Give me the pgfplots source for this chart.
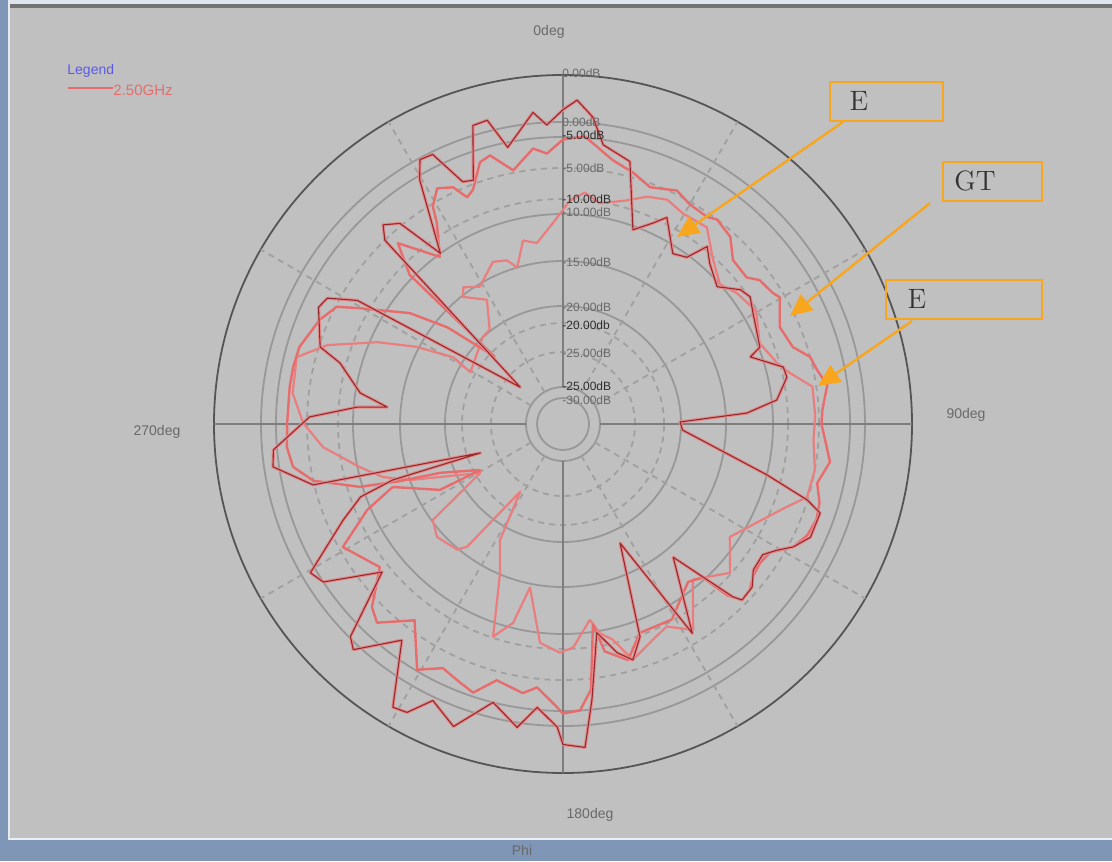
\documentclass[border=0pt]{standalone}
\usepackage{pgfplots}
\pgfplotsset{compat=1.18}
\usepgfplotslibrary{polar}
\usepackage{pgfplotstable}
\usetikzlibrary{arrows.meta}
\usepackage{fontspec}
\newfontfamily\uisans{Liberation Sans}

\definecolor{panel}{RGB}{192,192,192}
\definecolor{gridsolid}{RGB}{152,152,152}
\definecolor{griddash}{RGB}{160,160,160}
\definecolor{ringdark}{RGB}{85,85,85}
\definecolor{axisgray}{RGB}{125,125,125}
\definecolor{darktrace}{RGB}{150,40,45}
\definecolor{halo}{RGB}{226,140,140}
\definecolor{tracepink}{RGB}{232,108,108}
\definecolor{tracelight}{RGB}{234,125,125}
\definecolor{callout}{RGB}{247,166,30}
\definecolor{chrome}{RGB}{128,150,182}
\definecolor{legendblue}{RGB}{90,90,230}
\definecolor{labelgray}{RGB}{105,105,105}
\definecolor{labeldark}{RGB}{45,45,45}

% gain patterns: phi in degrees clockwise from 0deg (top), gain in dB
\pgfplotstableread{
phi gain
0.0 -2.8
2.5 -2.0
5.6 -3.3
8.2 -5.4
14.3 -6.3
19.8 -11.5
24.1 -10.4
26.7 -9.5
32.8 -11.8
36.6 -11.4
39.1 -9.7
42.4 -10.6
48.3 -11.5
52.9 -10.2
55.8 -9.9
59.7 -10.4
68.7 -11.1
70.3 -12.1
75.5 -9.8
78.2 -9.7
83.6 -10.8
86.6 -13.3
89.0 -18.7
92.9 -18.5
99.4 -15.3
104.0 -11.2
107.3 -7.5
109.1 -6.2
114.6 -6.2
118.1 -7.1
120.5 -8.1
123.2 -8.9
127.5 -8.8
130.8 -8.0
134.5 -7.9
135.5 -8.6
140.4 -14.2
148.3 -8.3
154.4 -17.5
160.1 -9.9
163.5 -8.3
166.7 -9.2
170.8 -11.1
174.0 -5.8
176.1 -2.0
180.0 -2.3
181.1 -3.7
185.2 -5.2
188.6 -3.4
194.1 -5.0
199.9 -2.2
205.2 -3.5
208.4 -1.7
211.0 -1.5
216.7 -6.4
222.9 -3.3
225.0 -3.9
230.7 -9.3
236.6 -5.0
239.5 -4.5
246.4 -8.8
250.2 -10.8
251.8 -13.7
250.7 -21.1
256.3 -7.4
261.6 -4.5
264.9 -4.7
267.3 -5.9
271.6 -7.7
274.7 -11.5
275.5 -13.9
278.7 -11.6
285.3 -9.5
287.6 -7.6
295.5 -6.3
298.1 -6.6
301.0 -8.8
310.7 -23.6
315.9 -7.5
317.9 -6.5
320.9 -7.3
324.3 -11.2
329.6 -5.3
331.6 -3.9
334.2 -4.0
337.5 -7.0
339.8 -7.2
343.2 -3.0
346.0 -2.9
348.7 -5.4
354.5 -2.9
356.9 -4.0
360.0 -2.8
}\patternA

\pgfplotstableread{
phi gain
0.0 -5.2
4.4 -4.9
7.7 -5.8
10.7 -6.5
15.6 -7.1
20.2 -7.8
26.0 -7.2
30.1 -7.7
34.8 -7.8
37.0 -7.5
41.8 -7.9
46.0 -9.1
51.4 -9.2
53.8 -8.5
58.0 -8.2
59.7 -7.9
65.9 -9.0
71.5 -8.6
74.8 -7.5
78.0 -7.2
81.6 -6.6
86.9 -7.2
90.0 -7.3
95.0 -6.8
98.1 -6.4
103.1 -7.1
107.1 -6.5
110.7 -6.3
114.5 -6.5
118.1 -7.1
121.9 -8.5
125.2 -8.7
128.8 -8.5
131.6 -8.0
134.5 -7.9
136.2 -9.0
137.7 -11.4
141.6 -11.9
150.9 -10.1
159.8 -10.2
164.6 -8.4
169.6 -9.5
171.5 -11.8
174.0 -6.6
176.6 -5.0
180.0 -4.8
181.2 -5.3
185.6 -6.8
188.5 -6.2
194.5 -6.8
198.5 -5.3
201.7 -5.7
206.2 -6.2
210.7 -5.1
217.1 -8.3
223.1 -6.2
226.2 -6.8
232.0 -9.4
240.8 -7.8
246.3 -10.9
249.7 -13.5
241.8 -16.9
241.0 -20.5
248.3 -17.5
250.7 -14.2
252.8 -11.0
257.2 -7.5
261.0 -6.1
265.2 -5.8
270.2 -5.9
277.7 -5.9
281.9 -5.9
286.3 -6.0
293.2 -6.8
297.4 -7.6
299.7 -9.3
305.9 -12.9
309.9 -16.0
314.6 -20.4
314.2 -10.9
317.6 -8.4
323.6 -11.4
327.9 -9.0
329.1 -7.7
331.9 -6.6
335.1 -7.1
337.1 -8.3
339.0 -7.9
342.4 -6.0
344.8 -5.7
348.9 -7.3
353.8 -5.8
356.6 -6.3
360.0 -5.2
}\patternB

\pgfplotstableread{
phi gain
1.8 -10.1
5.4 -9.4
9.5 -10.1
15.9 -9.4
20.3 -8.6
24.9 -8.2
29.6 -8.6
36.2 -8.5
42.4 -10.2
48.3 -11.2
53.0 -10.6
59.7 -10.1
67.6 -11.0
74.1 -10.2
77.3 -9.4
81.5 -7.8
88.0 -7.8
93.7 -7.9
100.3 -7.5
106.7 -7.6
110.3 -8.9
116.0 -10.4
120.5 -11.3
124.1 -11.9
131.7 -10.1
136.7 -11.2
140.2 -11.8
147.7 -8.5
152.9 -9.8
157.4 -9.3
163.5 -8.3
167.0 -10.3
170.0 -11.0
172.2 -12.2
177.4 -10.1
180.8 -9.7
186.0 -10.4
191.4 -14.7
194.1 -11.6
198.2 -10.1
202.9 -15.1
208.5 -17.5
212.3 -21.7
218.0 -15.6
220.1 -14.9
228.1 -14.5
233.6 -15.1
239.4 -20.4
249.9 -15.0
253.6 -13.0
258.0 -11.4
264.5 -8.7
270.2 -7.2
276.5 -6.2
284.1 -6.0
288.5 -8.1
293.8 -11.8
297.8 -14.8
301.3 -17.8
299.2 -19.6
317.4 -18.6
322.2 -18.5
328.5 -16.4
321.8 -15.1
323.9 -14.5
328.8 -15.2
336.6 -13.9
341.1 -14.2
343.7 -15.0
347.7 -13.0
351.8 -13.4
357.2 -11.9
361.8 -10.1
}\patternC

\begin{document}
\begin{tikzpicture}[x=0.5pt,y=0.5pt]
% window panel
\fill[panel] (0,0) rectangle (1112,861);
\fill[chrome] (0,0) rectangle (1112,21);
\fill[white!85!chrome] (0,21) rectangle (1112,23);
\fill[chrome] (0,21) rectangle (8,861);
\fill[white!80!chrome] (8,21) rectangle (10,861);
\fill[white!75!chrome] (10,857) rectangle (1112,861);
\fill[black!55] (10,853) rectangle (1112,857);
\useasboundingbox (0,0) rectangle (1112,861);
\coordinate (ctr) at (563,437);

\begin{polaraxis}[
  at={(ctr)}, anchor=center,
  scale only axis, width=349pt, height=349pt,
  xmin=0, xmax=360, ymin=0, ymax=28.15,
  hide axis, clip=false,
  % chart angle is clockwise from the top; radius is dB above the -28.15 dB centre
  x filter/.expression={mod(450-x,360)},
  y filter/.expression={y+28.15},
]
% radial rings
\pgfplotsinvokeforeach{151,143.5,105,81.5,59,18.5,13}{
  \draw[gridsolid, line width=0.9pt] (axis cs:0,0) circle[radius=#1pt];
}
\pgfplotsinvokeforeach{128,112.5,50.5,36}{
  \draw[griddash, line width=0.9pt, dash pattern=on 3pt off 2.5pt] (axis cs:0,0) circle[radius=#1pt];
}
\draw[ringdark, line width=0.9pt] (axis cs:0,0) circle[radius=174.5pt];
% angular spokes
\pgfplotsinvokeforeach{30,60,120,150,210,240,300,330}{
  \draw[griddash, line width=0.9pt, dash pattern=on 3pt off 2.5pt] (axis cs:#1,2.98) -- (axis cs:#1,28.15);
}
\pgfplotsinvokeforeach{0,90,180,270}{
  \draw[axisgray, line width=1.4pt] (axis cs:#1,2.98) -- (axis cs:#1,28.15);
}

\addplot[no markers, tracelight, line width=1.1pt, line join=round] table[x=phi,y=gain]{\patternC};
\addplot[no markers, tracepink, line width=1.2pt, line join=round] table[x=phi,y=gain]{\patternB};
\addplot[no markers, halo, line width=1.6pt, line join=round] table[x=phi,y=gain]{\patternA};
\addplot[no markers, darktrace, line width=0.55pt, line join=round] table[x=phi,y=gain]{\patternA};
\end{polaraxis}

% radial scale labels along the 0deg spoke
\begin{scope}[font=\uisans\fontsize{6}{7}\selectfont]
\node[anchor=west, text=labelgray, inner sep=0pt] at (562,788) {0.00dB};
\node[anchor=west, text=labelgray, inner sep=0pt] at (562,739) {0.00dB};
\node[anchor=west, text=labeldark, inner sep=0pt] at (562,726) {-5.00dB};
\node[anchor=west, text=labelgray, inner sep=0pt] at (562,693) {-5.00dB};
\node[anchor=west, text=labeldark, inner sep=0pt] at (562,662) {-10.00dB};
\node[anchor=west, text=labelgray, inner sep=0pt] at (562,649) {-10.00dB};
\node[anchor=west, text=labelgray, inner sep=0pt] at (562,599) {-15.00dB};
\node[anchor=west, text=labelgray, inner sep=0pt] at (562,554) {-20.00dB};
\node[anchor=west, text=labeldark, inner sep=0pt] at (562,536) {-20.00db};
\node[anchor=west, text=labelgray, inner sep=0pt] at (562,508) {-25.00dB};
\node[anchor=west, text=labeldark, inner sep=0pt] at (562,475) {-25.00dB};
\node[anchor=west, text=labelgray, inner sep=0pt] at (562,461) {-30.00dB};
\end{scope}

% angle labels
\begin{scope}[font=\uisans\fontsize{7}{8}\selectfont, text=labelgray]
\node at (549,829) {0deg};
\node at (966,446) {90deg};
\node at (590,46) {180deg};
\node at (157,429) {270deg};
\node at (522,11) {Phi};
\end{scope}

% legend
\node[anchor=west, inner sep=0pt, text=legendblue, font=\uisans\fontsize{7}{8}\selectfont] at (67,790) {Legend};
\draw[tracepink, line width=1.3pt] (68,773) -- (113,773);
\node[anchor=west, inner sep=0pt, text=tracepink, font=\uisans\fontsize{7.5}{8}\selectfont] at (113,771) {2.50GHz};

% callouts
\begin{scope}[callout, line width=1pt]
\draw (830,740) rectangle (943,779);
\draw (943,660) rectangle (1042,699);
\draw (886,542) rectangle (1042,581);
\draw[line width=1.2pt, -{Triangle[length=11pt,width=10pt]}] (843,739) -- (677,624);
\draw[line width=1.2pt, -{Triangle[length=11pt,width=10pt]}] (930,658) -- (790,545);
\draw[line width=1.2pt, -{Triangle[length=11pt,width=10pt]}] (912,540) -- (818,475);
\end{scope}
\begin{scope}[font=\fontsize{14}{16}\selectfont, text=black!80]
\node at (859,760) {E};
\node at (975,680) {GT};
\node at (917,562) {E};
\end{scope}
\end{tikzpicture}
\end{document}
